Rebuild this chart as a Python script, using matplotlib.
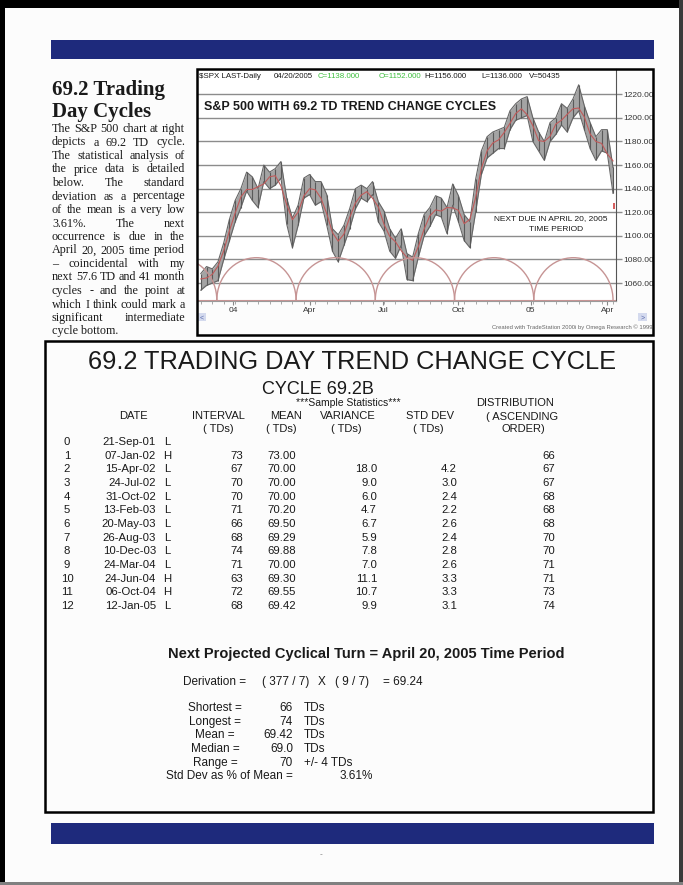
import numpy as np
import pandas as pd
import matplotlib
matplotlib.use('Agg')
import matplotlib.pyplot as plt
from matplotlib.patches import Rectangle, Arc

# ---------------- data ----------------
# weekly samples of the S&P 500 price bars, x axis in trading days
week_td = np.arange(0, 361, 5)
week_low = [1054, 1058, 1060, 1062, 1080, 1096, 1112, 1124, 1138, 1130,
            1124, 1146, 1140, 1143, 1149, 1110, 1090, 1109, 1132, 1135,
            1126, 1129, 1109, 1087, 1078, 1092, 1106, 1123, 1132, 1129,
            1135, 1112, 1104, 1087, 1081, 1092, 1063, 1062, 1082, 1100,
            1108, 1118, 1116, 1102, 1126, 1112, 1096, 1090, 1120, 1152,
            1166, 1170, 1174, 1174, 1190, 1198, 1200, 1202, 1180, 1172,
            1164, 1180, 1186, 1194, 1188, 1200, 1206, 1190, 1174, 1164,
            1172, 1170, 1136]
week_high = [1068, 1074, 1072, 1078, 1094, 1114, 1130, 1140, 1154, 1150,
             1140, 1160, 1154, 1157, 1163, 1132, 1115, 1126, 1149, 1152,
             1146, 1146, 1135, 1106, 1101, 1109, 1123, 1140, 1143, 1140,
             1146, 1129, 1121, 1106, 1098, 1106, 1085, 1082, 1102, 1118,
             1124, 1134, 1132, 1124, 1144, 1134, 1118, 1112, 1148, 1172,
             1184, 1188, 1190, 1192, 1206, 1212, 1216, 1218, 1200, 1188,
             1180, 1196, 1200, 1212, 1208, 1216, 1228, 1210, 1196, 1184,
             1190, 1190, 1158]
price_levels = [1060, 1080, 1100, 1120, 1140, 1160, 1180, 1200, 1220]
month_td = [28, 95, 159, 225, 288, 355]
month_labels = ['04', 'Apr', 'Jul', 'Oct', '05', 'Apr']
cycle_len = 69.2
cycle_end_td = 360
arc_base, arc_top = 1045.5, 1081.5

header_parts = ['$SPX LAST-Daily', '04/20/2005', 'C=1138.000', 'O=1152.000',
                'H=1156.000', 'L=1136.000', 'V=50435']

body_lines = [
    'The S&P 500 chart at right',
    'depicts a 69.2 TD cycle.',
    'The statistical analysis of',
    'the price data is detailed',
    'below. The standard',
    'deviation as a percentage',
    'of the mean is a very low',
    '3.61%. The next',
    'occurrence is due in the',
    'April 20, 2005 time period',
    '\u2013 coincidental with my',
    'next 57.6 TD and 41 month',
    'cycles - and the point at',
    'which I think could mark a',
    'significant intermediate',
    'cycle bottom.',
]

dates = ['21-Sep-01', '07-Jan-02', '15-Apr-02', '24-Jul-02', '31-Oct-02',
         '13-Feb-03', '20-May-03', '26-Aug-03', '10-Dec-03', '24-Mar-04',
         '24-Jun-04', '06-Oct-04', '12-Jan-05']
turn_type = ['L', 'H', 'L', 'L', 'L', 'L', 'L', 'L', 'L', 'L', 'H', 'H', 'L']
intervals = [None, 73, 67, 70, 70, 71, 66, 68, 74, 71, 63, 72, 68]
means = [None, 73.00, 70.00, 70.00, 70.00, 70.20, 69.50, 69.29, 69.88,
         70.00, 69.30, 69.55, 69.42]
variances = [None, None, 18.0, 9.0, 6.0, 4.7, 6.7, 5.9, 7.8, 7.0, 11.1, 10.7, 9.9]
std_devs = [None, None, 4.2, 3.0, 2.4, 2.2, 2.6, 2.4, 2.8, 2.6, 3.3, 3.3, 3.1]
distribution = [None, 66, 67, 67, 68, 68, 68, 70, 70, 71, 71, 73, 74]

stat_labels = ['Shortest =', 'Longest =', 'Mean =', 'Median =', 'Range =']
stat_values = ['66', '74', '69.42', '69.0', '70']
stat_units = ['TDs', 'TDs', 'TDs', 'TDs', '+/- 4 TDs']

# ---------------- page ----------------
W, H = 683, 885
SANS = 'Liberation Sans'
SERIF = 'Liberation Serif'
INK = '#1a1a1a'
NAVY = '#1e2a7c'

fig = plt.figure(figsize=(W / 100, H / 100), dpi=100)
fig.patch.set_facecolor('#fcfcfc')


def fx(x):
    return x / W


def fy(y):
    return 1 - y / H


def txt(x, y, s, size=8.5, ha='left', family=SANS, **kw):
    # y is the vertical centre of the capitals, in page pixels
    base = y + 0.36 * size * 100 / 72
    return fig.text(fx(x), fy(base), s, fontsize=size, ha=ha, va='baseline',
                    family=family, color=kw.pop('color', INK), **kw)


def box(x0, y0, x1, y1, **kw):
    fig.add_artist(Rectangle((fx(x0), fy(y1)), (x1 - x0) / W, (y1 - y0) / H,
                             transform=fig.transFigure, **kw))


# scan border and the blue bars
box(0, 0, W, 8, color='black', lw=0)
box(0, 0, 5, H, color='black', lw=0)
box(679, 0, W, H, color='#3a3a3a', lw=0)
box(0, 882, W, H, color='#808080', lw=0)
box(51, 40, 654, 59, color=NAVY, lw=0)
box(51, 823, 654, 844, color=NAVY, lw=0)
txt(321, 853, '-', size=6, ha='center', color='#777777')

# ---------------- left column text ----------------
fig.text(fx(52), fy(95), '69.2 Trading', fontsize=15, fontweight='bold',
         family=SERIF, color=INK)
fig.text(fx(52), fy(117), 'Day Cycles', fontsize=15, fontweight='bold',
         family=SERIF, color=INK)

renderer = fig.canvas.get_renderer()
col_left, col_right = 52, 185
for i, line in enumerate(body_lines):
    yb = fy(132 + 13.5 * i)
    words = line.split()
    if i == len(body_lines) - 1:
        fig.text(fx(col_left), yb, line, fontsize=8.7, family=SERIF, color=INK)
        continue
    items = [fig.text(0, yb, w, fontsize=8.7, family=SERIF, color=INK) for w in words]
    widths = [t.get_window_extent(renderer=renderer).width for t in items]
    gap = (col_right - col_left - sum(widths)) / (len(words) - 1)
    x = col_left
    for t, w in zip(items, widths):
        t.set_x(fx(x))
        x += w + gap

# ---------------- price chart ----------------
ax = fig.add_axes([fx(198), fy(301), (616 - 198) / W, (301 - 69) / H])
ax.set_xlim(-2.45, 362.6)
ax.set_ylim(1044.8, 1241.4)
ax.set_facecolor('white')
for lvl in price_levels:
    ax.axhline(lvl, color='#8c8c8c', lw=1.0, zorder=1)

ax.fill_between(week_td, week_low, week_high, color='#a4a4a4', lw=0, zorder=2)
ax.plot(week_td, week_low, color='#666666', lw=0.8, zorder=3)
ax.plot(week_td, week_high, color='#666666', lw=0.8, zorder=3)
ax.vlines(week_td, week_low, week_high, color='#5a5a5a', lw=0.8, zorder=3)
mid = pd.Series((np.array(week_low) + np.array(week_high)) / 2.0)
ax.plot(week_td, mid.rolling(3, center=True, min_periods=1).mean(),
        color='#c05a5a', lw=0.8, zorder=4)

arc_col = '#c69494'
for k in range(7):
    right = cycle_end_td - k * cycle_len
    ax.add_patch(Arc((right - cycle_len / 2, arc_base), cycle_len,
                     2 * (arc_top - arc_base), theta1=0, theta2=180,
                     color=arc_col, lw=1.0, zorder=5))
ax.axhline(arc_base, color=arc_col, lw=0.8, zorder=5)
ax.vlines(cycle_end_td + 0.5, 1123, 1128, color='#d04040', lw=1.2, zorder=6)

for side in ['top', 'left']:
    ax.spines[side].set_visible(False)
ax.spines['right'].set_color('#555555')
ax.spines['bottom'].set_color('#9a9a9a')
ax.yaxis.tick_right()
ax.set_yticks(price_levels)
ax.set_yticklabels([f'{v:.2f}' for v in price_levels])
ax.tick_params(axis='y', length=4, width=1, color='#8c8c8c', pad=1,
               labelsize=6, labelcolor='#333333')
ax.set_xticks(month_td)
ax.set_xticklabels(month_labels)
ax.set_xticks(np.arange(0, 361, 10), minor=True)
ax.tick_params(axis='x', which='major', length=3, color='#888888', pad=1.5,
               labelsize=6, labelcolor='#333333')
ax.tick_params(axis='x', which='minor', length=2, color='#999999')
for lab in ax.get_xticklabels() + ax.get_yticklabels():
    lab.set_family(SANS)

# chart header, title and notes
header_x = [198, 273, 317, 378, 423, 480, 528]
header_col = [INK, INK, '#3fbf3f', '#3fbf3f', INK, INK, INK]
for s, x, c in zip(header_parts, header_x, header_col):
    txt(x + 1, 75, s, size=5.7, color=c)
txt(204, 106, 'S&P 500 WITH 69.2 TD TREND CHANGE CYCLES', size=9, fontweight='bold')
txt(551, 217, 'NEXT DUE IN APRIL 20, 2005', size=6, ha='center')
txt(556, 228, 'TIME PERIOD', size=6, ha='center')
txt(652, 327, 'Created with TradeStation 2000i by Omega Research \u00a9 1999',
    size=4.2, ha='right', color='#666666')
box(198, 313, 206, 321, facecolor='#d4daee', edgecolor='none')
box(638, 313, 647, 321, facecolor='#d4daee', edgecolor='none')
txt(202, 317, '<', size=5, ha='center', color='#5566aa')
txt(642.5, 317, '>', size=5, ha='center', color='#5566aa')
box(197, 69, 653, 335, fill=False, edgecolor='black', lw=1.8)

# ---------------- statistics table ----------------
box(45, 341, 653, 812, fill=False, edgecolor='black', lw=1.8)
txt(352, 360, '69.2 TRADING DAY TREND CHANGE CYCLE', size=18.3, ha='center')
txt(318, 387, 'CYCLE 69.2B', size=13, ha='center')
txt(348, 402.5, '***Sample Statistics***', size=7.5, ha='center')
txt(515, 402, 'DISTRIBUTION', size=8, ha='center')
txt(522, 415.5, '( ASCENDING', size=8, ha='center')
txt(523, 428, 'ORDER)', size=8, ha='center')
for s, x in zip(['DATE', 'INTERVAL', 'MEAN', 'VARIANCE', 'STD DEV'],
                [133, 218, 286, 348, 430]):
    txt(x, 415, s, size=8, ha='center')
for x in [218, 281, 346, 428]:
    txt(x, 427.5, '( TDs)', size=8, ha='center')

for i in range(len(dates)):
    y = 441 + 13.67 * i
    txt(67, y, str(i), size=8.2, ha='center')
    txt(156, y, dates[i], size=8.2, ha='right')
    txt(167, y, turn_type[i], size=8.2, ha='center')
    if intervals[i] is not None:
        txt(243, y, f'{intervals[i]}', size=8.2, ha='right')
    if means[i] is not None:
        txt(296, y, f'{means[i]:.2f}', size=8.2, ha='right')
    if variances[i] is not None:
        txt(377, y, f'{variances[i]:.1f}', size=8.2, ha='right')
    if std_devs[i] is not None:
        txt(457, y, f'{std_devs[i]:.1f}', size=8.2, ha='right')
    if distribution[i] is not None:
        txt(555, y, f'{distribution[i]}', size=8.2, ha='right')

txt(366, 653, 'Next Projected Cyclical Turn = April 20, 2005 Time Period',
    size=10.5, ha='center', fontweight='bold')
deriv_parts = ['Derivation =', '( 377 / 7)', 'X', '( 9 / 7)', '= 69.24']
for s, x in zip(deriv_parts, [183, 262, 318, 335, 383]):
    txt(x, 680.5, s, size=8.5)

for i in range(len(stat_labels)):
    y = 707 + 13.6 * i
    txt(215, y, stat_labels[i], size=8.5, ha='center')
    txt(293, y, stat_values[i], size=8.5, ha='right')
    txt(304, y, stat_units[i], size=8.5)
txt(166, 775, 'Std Dev as % of Mean =', size=8.5)
txt(373, 775, '3.61%', size=8.5, ha='right')

fig.savefig('out.png', dpi=100, facecolor=fig.get_facecolor())
